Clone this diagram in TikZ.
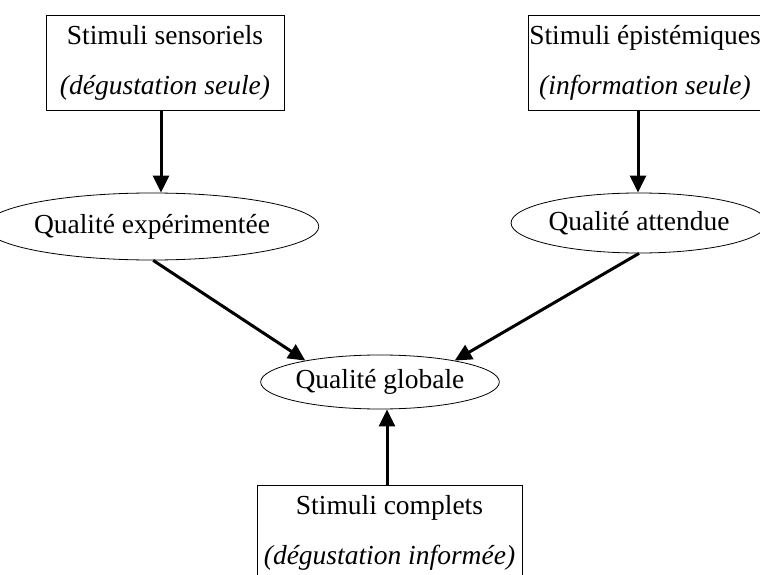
\documentclass[tikz,border=0pt]{standalone}
\usepackage{fontspec}
\setmainfont{Liberation Serif}
\usetikzlibrary{shapes.geometric,arrows.meta}
\begin{document}
\begin{tikzpicture}[x=1pt, y=-1pt, every node/.style={font=\fontsize{27.5}{50}\selectfont},
  stim/.style={draw,line width=0.8pt,minimum height=95pt,inner sep=0pt,align=center},
  qual/.style={draw,ellipse,line width=0.8pt,inner sep=0pt},
  arr/.style={-{Triangle[length=17pt,width=16pt]},line width=3pt}]
  \useasboundingbox (0,0) rectangle (760,575);
  \node[stim,minimum width=238pt] (sens) at (165,62.5) {Stimuli sensoriels\\\textit{(dégustation seule)}};
  \node[stim,minimum width=234pt] (epis) at (645,62.5) {Stimuli épistémiques\\\textit{(information seule)}};
  \node[qual,minimum width=280pt,minimum height=67pt] (exp) at (152,226.5) {Qualité expérimentée};
  \node[qual,minimum width=208pt,minimum height=60pt] (att) at (639,223) {Qualité attendue};
  \node[qual,minimum width=192pt,minimum height=54pt] (glob) at (380,382) {Qualité globale};
  \node[stim,minimum width=265pt] (compl) at (389.5,532.5) {Stimuli complets\\\textit{(dégustation informée)}};
  % connectors
  \draw[arr] ([xshift=-4pt]sens.south) -- ([xshift=-4pt]sens.south |- exp.north);
  \draw[arr] ([xshift=-7pt]epis.south) -- ([xshift=-7pt]epis.south |- att.north);
  \draw[arr] (exp.-88) -- (glob.164);
  \draw[arr] (att.south) -- (glob.16);
  \draw[arr] ([xshift=-2.5pt]compl.north) -- ([xshift=-2.5pt]compl.north |- glob.south);
\end{tikzpicture}
\end{document}
